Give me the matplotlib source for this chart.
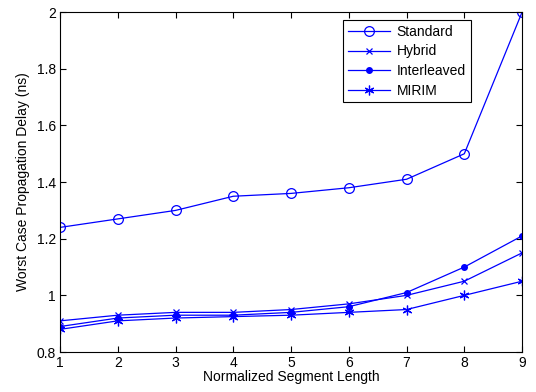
import numpy as np
import matplotlib
matplotlib.use("Agg")
import matplotlib.pyplot as plt

# values
seg_length = [1, 2, 3, 4, 5, 6, 7, 8, 9]
standard = [1.24, 1.27, 1.30, 1.35, 1.36, 1.38, 1.41, 1.50, 2.00]
hybrid = [0.91, 0.93, 0.94, 0.94, 0.95, 0.97, 1.00, 1.05, 1.15]
interleaved = [0.89, 0.92, 0.93, 0.93, 0.94, 0.96, 1.01, 1.10, 1.21]
mirim = [0.88, 0.91, 0.92, 0.925, 0.93, 0.94, 0.95, 1.00, 1.05]

plt.rcParams['font.family'] = ['Liberation Sans', 'DejaVu Sans']
plt.rcParams['font.size'] = 10

fig = plt.figure(figsize=(5.36, 3.92), dpi=100)
ax = fig.add_axes([0.112, 0.102, 0.862, 0.867])

blue = '#0000ff'
asterisk = (6, 2, 0)  # matlab style '*'
ax.plot(seg_length, standard, '-o', color=blue, mfc='none', ms=7, mew=0.9, lw=0.9, label='Standard')
ax.plot(seg_length, hybrid, '-x', color=blue, ms=4.5, mew=0.9, lw=0.9, label='Hybrid')
ax.plot(seg_length, interleaved, '-o', color=blue, ms=4, lw=0.9, label='Interleaved')
ax.plot(seg_length, mirim, '-', marker=asterisk, color=blue, ms=7, mew=0.9, lw=0.9, label='MIRIM')

ax.set_xlim(1, 9)
ax.set_ylim(0.8, 2.0)
ax.set_xticks(seg_length)
ax.set_yticks(np.arange(0.8, 2.01, 0.2))
ax.set_yticklabels(['0.8', '1', '1.2', '1.4', '1.6', '1.8', '2'])
ax.tick_params(direction='in', top=True, right=True, length=4, labelsize=10, pad=3)
for s in ax.spines.values():
    s.set_linewidth(0.8)

ax.set_xlabel('Normalized Segment Length', labelpad=0)
ax.set_ylabel('Worst Case Propagation Delay (ns)', labelpad=5)

leg = ax.legend(loc='upper right', bbox_to_anchor=(0.895, 0.985), fancybox=False,
                edgecolor='black', framealpha=1, handlelength=3.0, handletextpad=0.5,
                borderpad=0.35, labelspacing=0.4, borderaxespad=0.2, fontsize=10)
leg.get_frame().set_linewidth(0.8)

fig.savefig('out.png', dpi=100)
